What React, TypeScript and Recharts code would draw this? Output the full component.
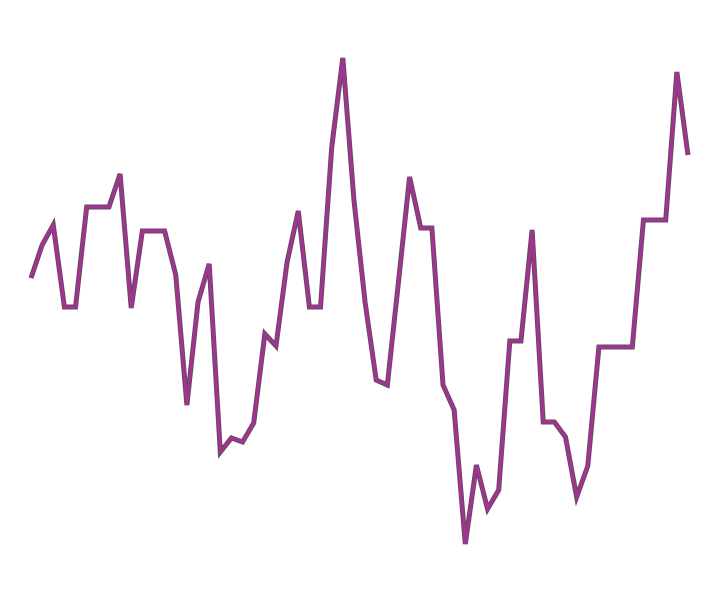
import React from 'react';
import { LineChart, Line, XAxis, YAxis } from 'recharts';

// one reading per step, 60 steps
const steps = Array.from({ length: 60 }, (_, i) => `${i + 1}`);

const values = [
  32.2, 35.5, 37.5, 29.3, 29.3, 39.3, 39.3, 39.3, 42.6, 29.2,
  36.9, 36.9, 36.9, 32.5, 19.5, 29.8, 33.6, 14.8, 16.2, 15.8,
  17.7, 26.6, 25.4, 33.8, 38.9, 29.3, 29.3, 45.2, 54.2, 40.0,
  29.8, 22.0, 21.5, 31.8, 42.3, 37.2, 37.2, 21.5, 19.0, 5.6,
  13.5, 9.1, 11.0, 25.9, 25.9, 37.0, 17.8, 17.8, 16.3, 10.3,
  13.4, 25.3, 25.3, 25.3, 25.3, 38.0, 38.0, 38.0, 52.8, 44.5,
];

const data = steps.map((step, i) => ({ step, value: values[i] }));

export default function App() {
  return (
    <LineChart
      width={712}
      height={592}
      data={data}
      margin={{ top: 50, right: 32, bottom: 56, left: 23 }}
    >
      <XAxis dataKey="step" hide />
      <YAxis hide domain={[5.6, 54.2]} />
      {/* dark edge under the line */}
      <Line
        type="linear"
        dataKey="value"
        stroke="#6e4566"
        strokeWidth={5}
        dot={false}
        activeDot={false}
        isAnimationActive={false}
      />
      <Line
        type="linear"
        dataKey="value"
        stroke="#9e3690"
        strokeWidth={3}
        dot={false}
        isAnimationActive={false}
      />
    </LineChart>
  );
}
